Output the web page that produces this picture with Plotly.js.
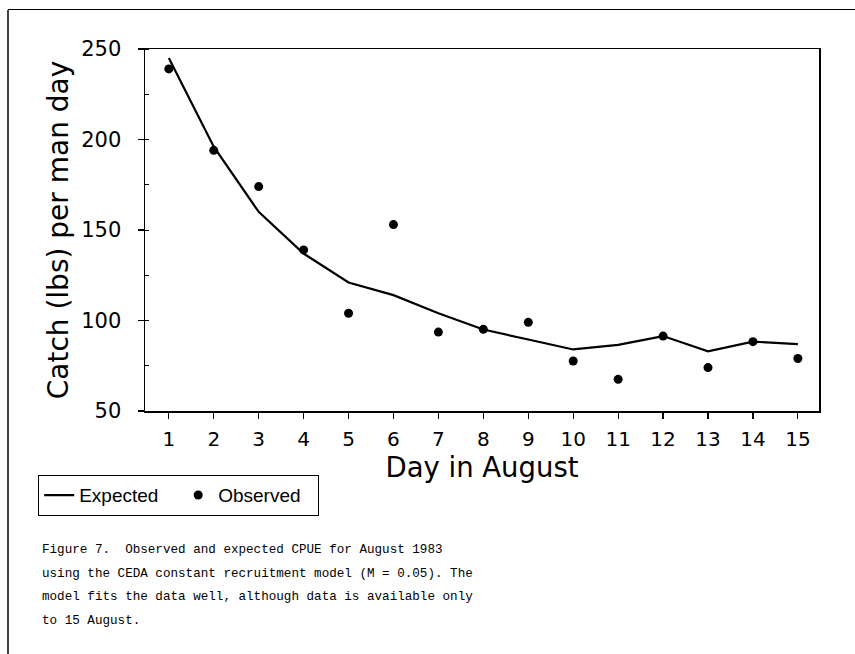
<!DOCTYPE html>
<html>
<head>
<meta charset="utf-8">
<script src="https://cdn.plot.ly/plotly-3.0.1.min.js"></script>
<style>html,body{margin:0;padding:0;background:#fff;}#chart{width:855px;height:654px;}</style>
</head>
<body>
<div id="chart"></div>
<script>
// Data
var days = [1, 2, 3, 4, 5, 6, 7, 8, 9, 10, 11, 12, 13, 14, 15];
var expected = [245, 196, 160, 137, 121, 114, 104, 95, 89.5, 84, 86.5, 91.4, 83, 88.3, 87];
var observed = [239, 194, 174, 139, 104, 153, 93.6, 95.1, 99, 77.6, 67.5, 91.4, 74, 88.3, 79];
var yTicks = [50, 100, 150, 200, 250];
var captionLines = [
  "Figure 7.  Observed and expected CPUE for August 1983",
  "using the CEDA constant recruitment model (M = 0.05). The",
  "model fits the data well, although data is available only",
  "to 15 August."
];

var W = 855, H = 654, L = 145, R = 36, T = 49, B = 243;
var pw = W - L - R, ph = H - T - B;
function px(x) { return (x - L) / pw; }
function py(y) { return (H - B - y) / ph; }

var traces = [
  {x: days, y: expected, type: 'scatter', mode: 'lines', name: 'Expected',
   line: {color: '#000', width: 2.2}},
  {x: days, y: observed, type: 'scatter', mode: 'markers', name: 'Observed',
   marker: {color: '#000', size: 9, symbol: 'circle'}}
];

var annotations = captionLines.map(function (t, i) {
  return {text: t, xref: 'paper', yref: 'paper', x: px(40), y: py(550 + i * 23.5),
    xanchor: 'left', yanchor: 'middle', showarrow: false, align: 'left',
    font: {family: 'Liberation Mono, DejaVu Sans Mono, monospace', size: 12.6, color: '#000'}};
});

var layout = {
  width: W, height: H,
  margin: {l: L, r: R, t: T, b: B, autoexpand: false},
  paper_bgcolor: '#fff', plot_bgcolor: '#fff',
  font: {family: 'DejaVu Sans, Arial, sans-serif', color: '#000'},
  showlegend: true,
  legend: {orientation: 'h', x: px(38), y: py(475), xanchor: 'left', yanchor: 'top',
    bordercolor: '#000', borderwidth: 1.2, bgcolor: '#fff', entrywidth: 94,
    font: {family: 'Liberation Sans, Arial, sans-serif', size: 19, color: '#000'}},
  xaxis: {range: [0.47, 15.47], tickvals: days, ticktext: days.map(String),
    showline: true, linecolor: '#000', linewidth: 1.5, mirror: true,
    ticks: 'outside', ticklen: 6, tickcolor: '#000', tickwidth: 1.2,
    showgrid: false, zeroline: false, ticklabelstandoff: 3,
    tickfont: {size: 20, family: 'DejaVu Sans, Arial, sans-serif'},
    title: {text: 'Day in August', standoff: 6, font: {size: 27.5}}},
  yaxis: {range: [50, 250], tickvals: yTicks,
    showline: true, linecolor: '#000', linewidth: 1.5, mirror: true,
    ticks: 'outside', ticklen: 6, tickcolor: '#000', tickwidth: 1.2,
    minor: {dtick: 25, ticks: 'inside', ticklen: 4, tickcolor: '#000', tickwidth: 1},
    showgrid: false, zeroline: false, ticklabelstandoff: 12,
    tickfont: {size: 21, family: 'DejaVu Sans, Arial, sans-serif'},
    title: {text: 'Catch (lbs) per man day', standoff: 4, font: {size: 28}}},
  annotations: annotations,
  shapes: [
    {type: 'line', xref: 'paper', yref: 'paper', x0: px(8), x1: px(8), y0: py(10), y1: py(654),
     line: {color: '#000', width: 1.5}},
    {type: 'line', xref: 'paper', yref: 'paper', x0: px(8), x1: px(855), y0: py(9.5), y1: py(9.5),
     line: {color: '#000', width: 1.2}}
  ]
};

Plotly.newPlot('chart', traces, layout, {displayModeBar: false, staticPlot: true});
</script>
</body>
</html>
